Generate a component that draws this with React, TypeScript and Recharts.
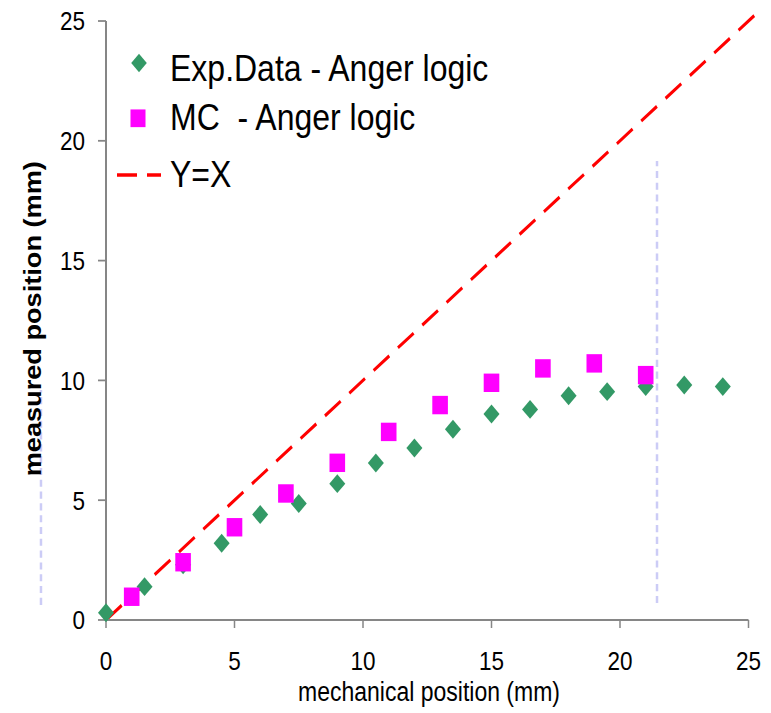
import React from "react";
import { ScatterChart, Scatter, XAxis, YAxis, ReferenceLine, Legend } from "recharts";

// ---- data ----
const expX = [0, 1.5, 3, 4.5, 6, 7.5, 9, 10.5, 12, 13.5, 15, 16.5, 18, 19.5, 21, 22.5, 24];
const expY = [0.3, 1.39, 2.3, 3.2, 4.4, 4.86, 5.69, 6.55, 7.18, 7.96, 8.6, 8.79, 9.36, 9.53, 9.74, 9.81, 9.74];
const mcX = [1, 3, 5, 7, 9, 11, 13, 15, 17, 19, 21];
const mcY = [0.97, 2.41, 3.87, 5.28, 6.56, 7.85, 8.97, 9.9, 10.5, 10.71, 10.22];
const xTicks = [0, 5, 10, 15, 20, 25];
const yTicks = [0, 5, 10, 15, 20, 25];
const identityLine = [{ x: 0, y: 0 }, { x: 25.4, y: 25.4 }];
const guideLines = [
  [{ x: -2.53, y: 0.63 }, { x: -2.53, y: 9.6 }],
  [{ x: 21.44, y: 0.71 }, { x: 21.44, y: 19.16 }],
];
const seriesNames = ["Exp.Data - Anger logic", "MC  - Anger logic", "Y=X"];

const expData = expX.map((x, i) => ({ x, y: expY[i] }));
const mcData = mcX.map((x, i) => ({ x, y: mcY[i] }));

// ---- styles ----
const S = 713 / 604;
const FONT = '"Liberation Sans", Arial, Helvetica, sans-serif';
const GREEN = "#339966";
const MAGENTA = "#FF00FF";
const RED = "#FF0000";
const AXIS = "#868686";

const Diamond = (props: any) => {
  const { cx, cy } = props;
  const r = 8;
  return <polygon points={`${cx},${cy - r} ${cx + r},${cy} ${cx},${cy + r} ${cx - r},${cy}`} fill={GREEN} />;
};
const Square = (props: any) => {
  const { cx, cy } = props;
  const h = 7.8;
  return <rect x={cx - h} y={cy - h} width={2 * h} height={2 * h} fill={MAGENTA} />;
};

const LegendContent = () => (
  <svg width={520} height={170} style={{ position: "absolute", left: 0, top: 0, overflow: "visible" }}>
    <polygon points="139,45.6 146.8,53.4 139,61.2 131.2,53.4" fill={GREEN} />
    <rect x={130.5} y={92.7} width={15} height={15} fill={MAGENTA} />
    <line x1={117} y1={148.2} x2={161} y2={148.2} stroke={RED} strokeWidth={3} strokeDasharray="20 10" />
    <text x={170} y={68.6} fontFamily={FONT} fontSize={32} fill="#000">{seriesNames[0]}</text>
    <text x={170} y={110.1} fontFamily={FONT} fontSize={32} fill="#000" style={{ whiteSpace: "pre" }}>{seriesNames[1]}</text>
    <text x={170} y={158.1} fontFamily={FONT} fontSize={32} fill="#000">{seriesNames[2]}</text>
  </svg>
);

export default function App() {
  return (
    <div
      style={{
        position: "absolute",
        left: 0,
        top: 0,
        width: 771,
        height: 604,
        transform: `scaleY(${S})`,
        transformOrigin: "0 0",
        background: "#fff",
      }}
    >
      <ScatterChart
        width={771}
        height={604}
        margin={{ top: 17.8, right: 22.5, left: 0, bottom: 38.8 }}
        style={{ fontFamily: FONT }}
      >
        <XAxis
          type="number"
          dataKey="x"
          domain={[0, 25]}
          ticks={xTicks}
          height={40}
          tickSize={6.8}
          tickMargin={19.5}
          axisLine={{ stroke: AXIS, strokeWidth: 1.8 }}
          tickLine={{ stroke: AXIS, strokeWidth: 1.5 }}
          tick={{ fill: "#000", fontSize: 22.5, fontFamily: FONT }}
          label={{
            content: () => (
              <text x={429} y={593.8} textAnchor="middle" fontFamily={FONT} fontSize={23} fill="#000">
                mechanical position (mm)
              </text>
            ),
          }}
        />
        <YAxis
          type="number"
          dataKey="y"
          domain={[0, 25]}
          ticks={yTicks}
          width={106}
          tickSize={8}
          tickMargin={13}
          axisLine={{ stroke: AXIS, strokeWidth: 2 }}
          tickLine={{ stroke: AXIS, strokeWidth: 1.5 }}
          tick={{ fill: "#000", fontSize: 22.5, fontFamily: FONT }}
          label={{
            content: () => (
              <text
                x={33}
                y={270}
                transform="rotate(-90, 33, 270)"
                textAnchor="middle"
                dominantBaseline="central"
                fontFamily={FONT}
                fontSize={23}
                fontWeight="bold"
                fill="#000"
              >
                measured position (mm)
              </text>
            ),
          }}
        />
        {guideLines.map((seg, i) => (
          <ReferenceLine
            key={i}
            segment={seg}
            ifOverflow="visible"
            stroke="#CCCCF6"
            strokeWidth={2.5}
            strokeDasharray="6 4"
          />
        ))}
        <ReferenceLine
          segment={identityLine}
          ifOverflow="visible"
          stroke={RED}
          strokeWidth={2.8}
          strokeDasharray="20 11"
        />
        <Legend
          layout="vertical"
          align="center"
          verticalAlign="middle"
          content={LegendContent}
          wrapperStyle={{ left: 0, top: 0, width: 520, height: 170 }}
        />
        <Scatter name={seriesNames[0]} data={expData} shape={Diamond} isAnimationActive={false} />
        <Scatter name={seriesNames[1]} data={mcData} shape={Square} isAnimationActive={false} />
      </ScatterChart>
    </div>
  );
}
